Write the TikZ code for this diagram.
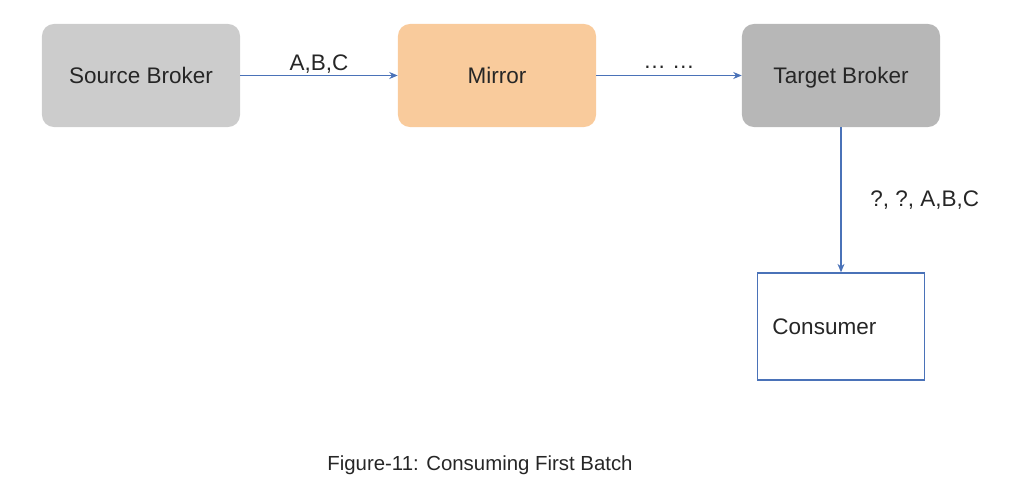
\documentclass[tikz,border=0pt]{standalone}
\usepackage{fontspec}
\setmainfont{Liberation Sans}
\usetikzlibrary{positioning,arrows.meta}
\definecolor{srcgray}{HTML}{CCCCCC}
\definecolor{tgtgray}{HTML}{B7B7B7}
\definecolor{mirrororange}{HTML}{F9CB9C}
\definecolor{linkblue}{HTML}{4A72B8}
\definecolor{textgray}{HTML}{262626}
\tikzset{
  broker/.style={rounded corners=0.3cm, minimum width=4.95cm, minimum height=2.575cm,
    text height=12pt, text depth=0pt, text=textgray, font=\fontsize{16}{19}\selectfont},
  link/.style={linkblue, line width=0.8pt, ->},
  lbl/.style={text=textgray, font=\fontsize{16}{19}\selectfont}
}
\begin{document}
\begin{tikzpicture}[>={Stealth[length=6pt,width=5pt]}, x=0.025cm, y=-0.025cm]
                \useasboundingbox (0,0) rectangle (1024,499);

                % Draw the brokers and the mirror
                \node[broker, fill=srcgray] (source) at (141,75.5) {Source Broker};
                \node[broker, fill=mirrororange] (mirror) at (497,75.5) {Mirror};
                \node[broker, fill=tgtgray] (target) at (841,75.5) {Target Broker};

                % Draw the consumer
                \node[draw=linkblue, line width=1pt, minimum height=2.675cm, text width=3.425cm,
                  inner xsep=0.375cm, align=left, lbl] (consumer) at (841,326.5) {Consumer};

                % Draw the links
                \draw[link] (source) -- (mirror) node[midway, above=-2.5pt, lbl] (batch) {A,B,C};
                \draw[link] (mirror) -- (target) node[midway, above=1pt, lbl] (dots) {\ldots\ \ldots};
                \draw[link] (target) -- (consumer) node[midway, right=0.6cm, lbl] (recv) {?, ?, A,B,C};

                % Draw the caption
                \node[text=textgray, font=\fontsize{14.5}{17}\selectfont] (caption) at (480,465)
                {Figure-11: Consuming First Batch};
              \end{tikzpicture}
\end{document}
